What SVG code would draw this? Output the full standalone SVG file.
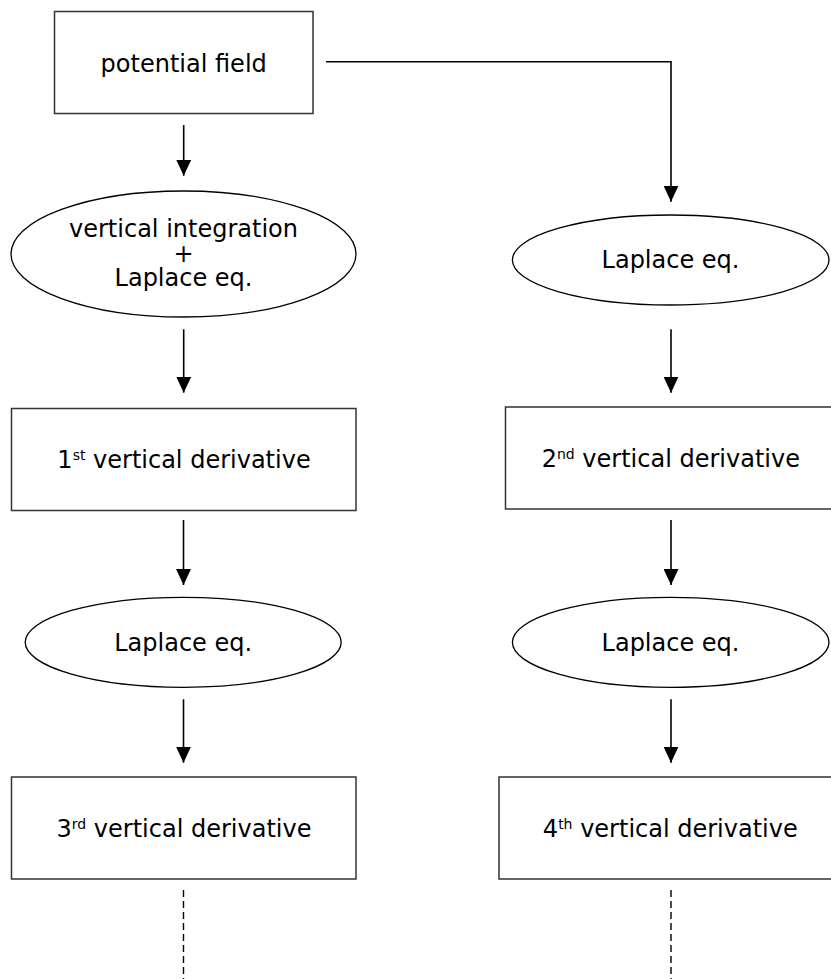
<svg xmlns="http://www.w3.org/2000/svg" width="831" height="979" viewBox="0 0 831 979">
<style>
.box{fill:#fff;stroke:#333;stroke-width:1.5}
.ell{fill:#fff;stroke:#000;stroke-width:1.3}
.t{font-family:"DejaVu Sans",Verdana,sans-serif;font-size:24px;fill:#000;text-anchor:middle}
.sup{font-size:14px}
.c{fill:none;stroke:#000;stroke-width:1.6}
.d{fill:none;stroke:#000;stroke-width:1.4;stroke-dasharray:7 4}
</style>
<defs>
<marker id="ah" markerUnits="userSpaceOnUse" markerWidth="16" markerHeight="15" refX="16" refY="7.5" orient="auto">
<path d="M0,0 L16,7.5 L0,15 z" fill="#000"/>
</marker>
</defs>
<rect width="831" height="979" fill="#fff"/>
<g id="connectors">
<path class="c" d="M183.7,125 V175.7" marker-end="url(#ah)"/>
<path class="c" d="M183.7,329.3 V392.7" marker-end="url(#ah)"/>
<path class="c" d="M183.5,520 V585" marker-end="url(#ah)"/>
<path class="c" d="M183.5,699.3 V762.7" marker-end="url(#ah)"/>
<path class="c" d="M326,61.7 H671 V201.7" marker-end="url(#ah)"/>
<path class="c" d="M671,329.3 V392.7" marker-end="url(#ah)"/>
<path class="c" d="M671,520 V585" marker-end="url(#ah)"/>
<path class="c" d="M671,699.3 V762.7" marker-end="url(#ah)"/>
<path class="d" d="M183.5,890 V979"/>
<path class="d" d="M671,890 V979"/>
</g>
<g id="potential-field">
<rect class="box" x="54.5" y="11.5" width="258.5" height="102"/>
<text class="t" x="183.7" y="71.7">potential field</text>
</g>
<g id="vertical-integration">
<ellipse class="ell" cx="183.5" cy="254" rx="172.5" ry="63"/>
<text class="t" x="183.5" y="236.7">vertical integration</text>
<text class="t" x="183.5" y="261.5">+</text>
<text class="t" x="183.5" y="286">Laplace eq.</text>
</g>
<g id="laplace-right-1">
<ellipse class="ell" cx="670.7" cy="260" rx="158.3" ry="45"/>
<text class="t" x="670.5" y="268.3">Laplace eq.</text>
</g>
<g id="first-derivative">
<rect class="box" x="11.5" y="408.5" width="344.5" height="102"/>
<text class="t" x="184" y="468.3">1<tspan class="sup" dy="-8">st</tspan><tspan dy="8"> vertical derivative</tspan></text>
</g>
<g id="second-derivative">
<rect class="box" x="505.5" y="407" width="340" height="102"/>
<text class="t" x="670.8" y="466.7">2<tspan class="sup" dy="-8">nd</tspan><tspan dy="8"> vertical derivative</tspan></text>
</g>
<g id="laplace-left-2">
<ellipse class="ell" cx="183.2" cy="642.3" rx="158" ry="45"/>
<text class="t" x="183.2" y="650.7">Laplace eq.</text>
</g>
<g id="laplace-right-2">
<ellipse class="ell" cx="670.7" cy="642.3" rx="158.3" ry="45"/>
<text class="t" x="670.5" y="650.7">Laplace eq.</text>
</g>
<g id="third-derivative">
<rect class="box" x="11.5" y="777" width="344.5" height="102"/>
<text class="t" x="184" y="836.7">3<tspan class="sup" dy="-8">rd</tspan><tspan dy="8"> vertical derivative</tspan></text>
</g>
<g id="fourth-derivative">
<rect class="box" x="499" y="777" width="345" height="102"/>
<text class="t" x="670.3" y="836.7">4<tspan class="sup" dy="-8">th</tspan><tspan dy="8"> vertical derivative</tspan></text>
</g>
</svg>
